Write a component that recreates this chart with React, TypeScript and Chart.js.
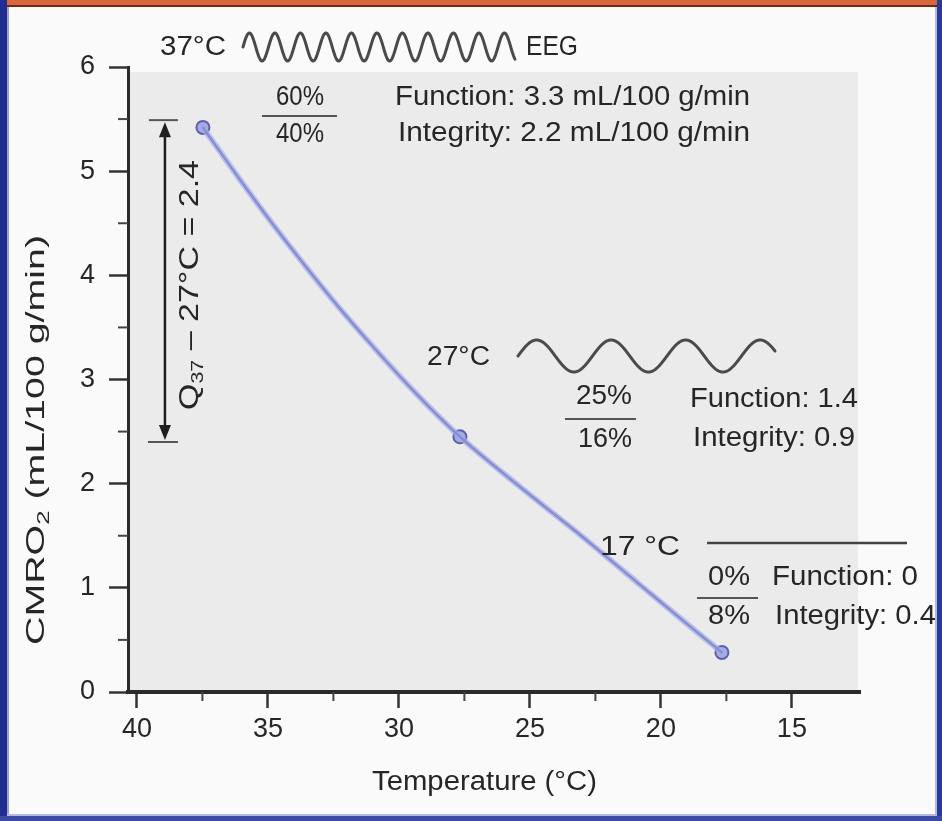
import React, { useEffect, useRef } from 'react';
import { Chart, registerables } from 'chart.js';

Chart.register(...registerables);

// ---- data ----
const temperatureTicks = [40, 35, 30, 25, 20, 15];
const minorTemperatureTicks = [37.5, 32.5, 27.5, 22.5, 17.5];
const minorCmroTicks = [0.5, 1.5, 2.5, 3.5, 4.5, 5.5];
const curveTemps = [37.48, 36.07, 34.81, 33.51, 32.25, 31.11, 29.96, 28.82, 27.67, 25.38, 23.09, 20.8, 18.89, 17.67];
const curveCmro = [5.42, 4.92, 4.49, 4.07, 3.68, 3.35, 3.03, 2.73, 2.45, 1.97, 1.51, 1.03, 0.63, 0.38];
const measuredTemps = [37.48, 27.67, 17.67];
const measuredCmro = [5.42, 2.45, 0.38];
const q10Top = 5.49;
const q10Bottom = 2.4;

const FONT = '"Liberation Sans", Arial, sans-serif';
const TEXT = '#262626';
const TS = 27;

type Seg = { t: string; size: number; dy?: number };

function fitSegs(ctx: CanvasRenderingContext2D, segs: Seg[], x0: number, y: number, len: number, rotate = false) {
  let total = 0;
  const widths = segs.map((s) => {
    ctx.font = `${s.size}px ${FONT}`;
    const w = ctx.measureText(s.t).width;
    total += w;
    return w;
  });
  const sc = len / total;
  ctx.save();
  ctx.translate(x0, y);
  if (rotate) ctx.rotate(-Math.PI / 2);
  ctx.scale(sc, 1);
  ctx.fillStyle = TEXT;
  ctx.textBaseline = 'middle';
  ctx.textAlign = 'left';
  let cx = 0;
  segs.forEach((s, i) => {
    ctx.font = `${s.size}px ${FONT}`;
    ctx.fillText(s.t, cx, s.dy || 0);
    cx += widths[i];
  });
  ctx.restore();
}

function fitText(ctx: CanvasRenderingContext2D, text: string, x0: number, x1: number, y: number, size = TS) {
  fitSegs(ctx, [{ t: text, size }], x0, y, x1 - x0);
}

function hline(ctx: CanvasRenderingContext2D, x0: number, x1: number, y: number, w = 2, c = '#444') {
  ctx.save();
  ctx.strokeStyle = c;
  ctx.lineWidth = w;
  ctx.beginPath();
  ctx.moveTo(x0, y);
  ctx.lineTo(x1, y);
  ctx.stroke();
  ctx.restore();
}

function wave(ctx: CanvasRenderingContext2D, x0: number, x1: number, yc: number, amp: number, period: number, phaseX: number) {
  ctx.save();
  ctx.strokeStyle = '#4a4a4a';
  ctx.lineWidth = 3;
  ctx.lineJoin = 'round';
  ctx.lineCap = 'round';
  ctx.beginPath();
  for (let x = x0; x <= x1; x += 0.5) {
    const y = yc - amp * Math.sin((2 * Math.PI * (x - phaseX)) / period);
    if (x === x0) ctx.moveTo(x, y);
    else ctx.lineTo(x, y);
  }
  ctx.stroke();
  ctx.restore();
}

const decorPlugin = {
  id: 'decor',
  beforeDraw(chart: any) {
    const { ctx, chartArea } = chart;
    ctx.save();
    ctx.fillStyle = '#fafafa';
    ctx.fillRect(0, 0, chart.width, chart.height);
    ctx.fillStyle = '#ebebeb';
    ctx.fillRect(chartArea.left, 72, 858 - chartArea.left, chartArea.bottom - 72);
    ctx.restore();
  },
  afterDatasetsDraw(chart: any) {
    const { ctx } = chart;
    const xs = chart.scales.x;
    const ys = chart.scales.y;
    // minor ticks
    ctx.save();
    ctx.strokeStyle = '#444';
    ctx.lineWidth = 2;
    minorTemperatureTicks.forEach((v) => {
      const px = xs.getPixelForValue(v);
      ctx.beginPath();
      ctx.moveTo(px, ys.bottom);
      ctx.lineTo(px, ys.bottom + 9);
      ctx.stroke();
    });
    minorCmroTicks.forEach((v) => {
      const py = ys.getPixelForValue(v);
      ctx.beginPath();
      ctx.moveTo(xs.left, py);
      ctx.lineTo(xs.left - 10, py);
      ctx.stroke();
    });
    ctx.restore();

    // Q10 double arrow
    const ax = xs.getPixelForValue(38.93);
    const yT = ys.getPixelForValue(q10Top);
    const yB = ys.getPixelForValue(q10Bottom);
    hline(ctx, ax - 16, ax + 13, yT, 2, '#555');
    hline(ctx, ax - 17, ax + 13, yB, 2, '#555');
    ctx.save();
    ctx.strokeStyle = '#1e1e1e';
    ctx.fillStyle = '#1e1e1e';
    ctx.lineWidth = 2.5;
    ctx.beginPath();
    ctx.moveTo(ax, yT + 12);
    ctx.lineTo(ax, yB - 12);
    ctx.stroke();
    ctx.beginPath();
    ctx.moveTo(ax, yT + 2);
    ctx.lineTo(ax - 6, yT + 17);
    ctx.lineTo(ax + 6, yT + 17);
    ctx.closePath();
    ctx.fill();
    ctx.beginPath();
    ctx.moveTo(ax, yB - 2);
    ctx.lineTo(ax - 6, yB - 17);
    ctx.lineTo(ax + 6, yB - 17);
    ctx.closePath();
    ctx.fill();
    ctx.restore();

    fitSegs(
      ctx,
      [
        { t: 'Q', size: TS },
        { t: '37', size: 17, dy: 7 },
        { t: ' \u2013 27\u00B0C = 2.4', size: TS },
      ],
      191,
      410,
      250,
      true
    );

    // 37 °C block
    fitText(ctx, '37\u00B0C', 160, 226, 48);
    wave(ctx, 243, 515, 47, 14, 25.5, 243);
    fitText(ctx, 'EEG', 526, 578, 48);
    fitText(ctx, '60%', 276, 324, 98);
    hline(ctx, 262, 337, 116, 2, '#555');
    fitText(ctx, '40%', 276, 324, 135);
    fitText(ctx, 'Function: 3.3 mL/100 g/min', 395, 750, 98);
    fitText(ctx, 'Integrity: 2.2 mL/100 g/min', 398, 750, 134);

    // 27 °C block
    fitText(ctx, '27\u00B0C', 427, 490, 358);
    wave(ctx, 518, 775, 356, 16, 74.5, 518);
    fitText(ctx, '25%', 576, 632, 397);
    hline(ctx, 565, 636, 419, 2, '#555');
    fitText(ctx, '16%', 578, 632, 440);
    fitText(ctx, 'Function: 1.4', 690, 858, 400);
    fitText(ctx, 'Integrity: 0.9', 693, 855, 439);

    // 17 °C block
    fitText(ctx, '17 \u00B0C', 600, 680, 548);
    hline(ctx, 707, 907, 543, 2.5, '#444');
    fitText(ctx, '0%', 708, 750, 578);
    hline(ctx, 697, 758, 598, 2, '#555');
    fitText(ctx, '8%', 708, 750, 617);
    fitText(ctx, 'Function: 0', 772, 918, 578);
    fitText(ctx, 'Integrity: 0.4', 775, 936, 617);

    // axis titles
    fitText(ctx, 'Temperature (\u00B0C)', 372, 597, 783);
    fitSegs(
      ctx,
      [
        { t: 'CMRO', size: 26 },
        { t: '2', size: 17, dy: 7 },
        { t: ' (mL/100 g/min)', size: 26 },
      ],
      37,
      645,
      410,
      true
    );
  },
  afterDraw(chart: any) {
    const { ctx, width, height } = chart;
    ctx.save();
    ctx.fillStyle = '#d8663f';
    ctx.fillRect(0, 0, width, 5);
    ctx.fillStyle = '#6e2a1c';
    ctx.fillRect(0, 5, width, 2);
    ctx.fillStyle = '#1f2d8f';
    ctx.fillRect(0, 0, 7, height);
    ctx.fillStyle = '#9aa0d0';
    ctx.fillRect(7, 7, 2, height - 7);
    ctx.fillStyle = '#2a3a9a';
    ctx.fillRect(width - 5, 0, 5, height);
    ctx.fillStyle = '#b4b9de';
    ctx.fillRect(width - 7, 7, 2, height - 7);
    ctx.fillStyle = '#3b4aa5';
    ctx.fillRect(0, height - 5, width, 5);
    ctx.fillStyle = '#b4b9de';
    ctx.fillRect(7, height - 7, width - 14, 2);
    ctx.restore();
  },
};

export default function App() {
  const ref = useRef<HTMLCanvasElement | null>(null);
  useEffect(() => {
    if (!ref.current) return;
    const curve = curveTemps.map((t, i) => ({ x: t, y: curveCmro[i] }));
    const pts = measuredTemps.map((t, i) => ({ x: t, y: measuredCmro[i] }));
    const chart = new Chart(ref.current, {
      type: 'scatter',
      data: {
        datasets: [
          {
            label: 'halo',
            data: curve,
            showLine: true,
            borderColor: 'rgba(165,174,235,0.7)',
            borderWidth: 6,
            pointRadius: 0,
            cubicInterpolationMode: 'monotone',
          },
          {
            label: 'CMRO2',
            data: curve,
            showLine: true,
            borderColor: '#3f448e',
            borderWidth: 2.5,
            pointRadius: 0,
            cubicInterpolationMode: 'monotone',
          },
          {
            label: 'measured',
            data: pts,
            showLine: false,
            pointRadius: 6.5,
            pointBackgroundColor: '#a3abe2',
            pointBorderColor: '#5a62b0',
            pointBorderWidth: 2,
          },
        ],
      },
      options: {
        responsive: false,
        animation: false,
        devicePixelRatio: 1,
        layout: { padding: { top: 67, right: 82, left: 0, bottom: 0 } },
        plugins: { legend: { display: false }, tooltip: { enabled: false } },
        scales: {
          x: {
            type: 'linear',
            reverse: true,
            min: 12.4,
            max: 40.34,
            afterBuildTicks: (s: any) => {
              s.ticks = temperatureTicks.map((v) => ({ value: v }));
            },
            afterFit: (s: any) => {
              s.height = 129;
            },
            grid: { drawOnChartArea: false, tickLength: 16, tickWidth: 2.5, tickColor: '#333' },
            border: { display: true, width: 4, color: '#2a2a2a' },
            ticks: {
              autoSkip: false,
              maxRotation: 0,
              padding: 5,
              color: TEXT,
              font: { family: FONT, size: 27 },
            },
            title: { display: false },
          },
          y: {
            type: 'linear',
            min: 0,
            max: 6,
            afterFit: (s: any) => {
              s.width = 128;
            },
            grid: { drawOnChartArea: false, tickLength: 19, tickWidth: 2.5, tickColor: '#333' },
            border: { display: true, width: 3, color: '#2a2a2a' },
            ticks: {
              stepSize: 1,
              padding: 14,
              color: TEXT,
              font: { family: FONT, size: 27 },
            },
            title: { display: false },
          },
        },
      },
      plugins: [decorPlugin],
    } as any);
    return () => chart.destroy();
  }, []);
  return (
    <div style={{ position: 'absolute', left: 0, top: 0, width: 942, height: 821 }}>
      <canvas ref={ref} width={942} height={821} />
    </div>
  );
}
